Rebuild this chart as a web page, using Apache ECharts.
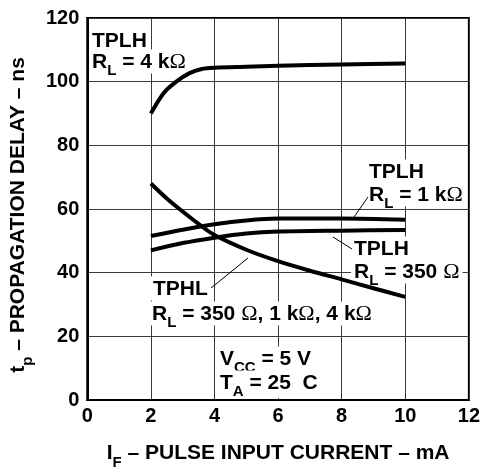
<!DOCTYPE html>
<html><head><meta charset="utf-8">
<script src="https://cdn.jsdelivr.net/npm/echarts@6/dist/echarts.min.js"></script>
<style>html,body{margin:0;padding:0;background:#fff}#c{width:483px;height:475px}</style>
</head><body><div id="c"></div>
<script>
// ---- data ----
const xTicks = [0, 2, 4, 6, 8, 10, 12];
const yTicks = [0, 20, 40, 60, 80, 100, 120];

const xPLH4k = [2, 2.4, 2.8, 3.2, 3.6, 4, 5, 6, 8, 10];
const yPLH4k = [90, 96.4, 100, 102.6, 104, 104.4, 104.7, 105, 105.4, 105.7];

const xPLH1k = [2, 3, 4, 5, 6, 8, 10];
const yPLH1k = [51.5, 53.5, 55.2, 56.4, 57, 57, 56.6];

const xPLH350 = [2, 3, 4, 5, 6, 8, 10];
const yPLH350 = [47, 49.3, 51, 52.3, 52.9, 53.2, 53.4];

const xPHL = [2, 2.5, 3, 3.5, 4, 5, 6, 7, 8, 9, 10];
const yPHL = [68, 63.3, 59.2, 55.3, 51.8, 47.2, 43.6, 40.6, 37.9, 35.1, 32.4];

const labels = {
  plh4k: ['TPLH', '{m|R}{s|L}{m| = 4 k}{o|Ω}'],
  plh1k: ['TPLH', '{m|R}{s|L}{m| = 1 k}{o|Ω}'],
  plh350: ['TPLH', '{m|R}{s|L}{m| = 350 }{o|Ω}'],
  phl: ['TPHL', '{m|R}{s|L}{m| = 350 }{o|Ω}{m|, 1 k}{o|Ω}{m|, 4 k}{o|Ω}'],
  cond: ['{m|V}{s|CC}{m| = 5 V}', '{m|T}{s|A}{m| = 25  C}']
};
const xTitle = '{m|I}{s|F}{m| – PULSE INPUT CURRENT – mA}';
const yTitle = '{m|t}{s|p}{m| – PROPAGATION DELAY – ns}';

// ---- helpers ----
const FF = "'Liberation Sans', Arial, Helvetica, sans-serif";
const pairs = (xs, ys) => xs.map((x, i) => [x, ys[i]]);
const richG = {
  m: {fontSize: 21, fontWeight: 'bold', fontFamily: FF, fill: '#000', color: '#000', lineHeight: 22, verticalAlign: 'top'},
  o: {fontSize: 22, fontWeight: 'normal', fontFamily: "'Liberation Serif', 'DejaVu Serif', serif", fill: '#000', color: '#000', lineHeight: 22, verticalAlign: 'top'},
  s: {fontSize: 15, fontWeight: 'bold', fontFamily: FF, fill: '#000', color: '#000', lineHeight: 15, verticalAlign: 'top', padding: [12, 0, 0, 0]}
};
function lab(text, inkLeft, capTop) {
  const t = text.indexOf('{') === 0 ? text : '{m|' + text + '}';
  return {
    type: 'text', x: inkLeft - 4, y: capTop - 5.5, z: 1,
    style: {text: t, rich: richG, align: 'left', verticalAlign: 'top',
      backgroundColor: '#fff', padding: [2, 3, 0, 3], fill: '#000',
      fontSize: 21, fontWeight: 'bold', fontFamily: FF}
  };
}
function leader(x1, y1, x2, y2) {
  return {type: 'line', z: 1, shape: {x1, y1, x2, y2}, style: {stroke: '#000', lineWidth: 1}};
}
function curve(xs, ys) {
  return {type: 'line', data: pairs(xs, ys), smooth: 0.3, showSymbol: false,
    lineStyle: {color: '#000', width: 4, cap: 'butt', join: 'round'}, z: 3, silent: true};
}

const chart = echarts.init(document.getElementById('c'), null, {renderer: 'canvas'});
chart.setOption({
  animation: false,
  grid: {left: 86, right: 11, top: 18, bottom: 70, show: true, borderColor: '#000', borderWidth: 2, backgroundColor: 'transparent'},
  xAxis: {
    type: 'value', min: xTicks[0], max: xTicks[xTicks.length - 1], interval: 2,
    axisLine: {show: true, lineStyle: {color: '#000', width: 2}},
    axisTick: {show: false},
    splitLine: {show: true, lineStyle: {color: '#3a3a3a', width: 1}},
    axisLabel: {fontSize: 20, fontWeight: 'bold', fontFamily: FF, color: '#000', margin: 6},
    name: xTitle, nameLocation: 'middle', nameGap: 43,
    nameTextStyle: {rich: richG, fontSize: 21, fontWeight: 'bold', fontFamily: FF, color: '#000'}
  },
  yAxis: {
    type: 'value', min: yTicks[0], max: yTicks[yTicks.length - 1], interval: 20,
    axisLine: {show: true, lineStyle: {color: '#000', width: 2}},
    axisTick: {show: false},
    splitLine: {show: true, lineStyle: {color: '#3a3a3a', width: 1}},
    axisLabel: {fontSize: 20, fontWeight: 'bold', fontFamily: FF, color: '#000', margin: 8},
    name: yTitle, nameLocation: 'middle', nameGap: 52,
    nameTextStyle: {rich: richG, fontSize: 21, fontWeight: 'bold', fontFamily: FF, color: '#000', padding: [0, 12, 0, 0]}
  },
  series: [
    curve(xPLH4k, yPLH4k),
    curve(xPLH1k, yPLH1k),
    curve(xPLH350, yPLH350),
    curve(xPHL, yPHL)
  ],
  graphic: [
    {type: 'rect', z: 1, shape: {x: 216, y: 347, width: 94, height: 51}, style: {fill: '#fff'}},
    lab(labels.plh4k[0], 93, 34),
    lab(labels.plh4k[1], 93, 55),
    lab(labels.plh1k[0], 370, 165),
    lab(labels.plh1k[1], 370, 188),
    lab(labels.plh350[0], 355, 242),
    lab(labels.plh350[1], 355, 265),
    lab(labels.phl[0], 154, 282),
    lab(labels.phl[1], 153, 307),
    lab(labels.cond[0], 221, 352),
    lab(labels.cond[1], 221, 376),
    leader(368, 197, 352, 220),
    leader(333, 237, 352, 249),
    leader(211, 288, 248, 258)
  ]
});
</script></body></html>
